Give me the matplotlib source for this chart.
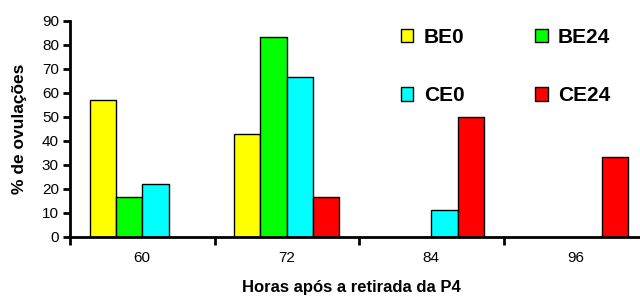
import matplotlib.pyplot as plt
import numpy as np

plt.rcParams['font.family'] = ['Liberation Sans', 'DejaVu Sans']

horas = ['60', '72', '84', '96']
series = ['BE0', 'BE24', 'CE0', 'CE24']
be0 = [57.1, 42.9, 0, 0]
be24 = [16.7, 83.3, 0, 0]
ce0 = [22.2, 66.7, 11.1, 0]
ce24 = [0, 16.7, 50.0, 33.3]
cores = ['#ffff00', '#00ff00', '#00ffff', '#ff0000']

fig = plt.figure(figsize=(6.4, 3.0), dpi=100)
ax = fig.add_axes([70 / 640, 63 / 300, 578 / 640, 216 / 300])

x = np.arange(len(horas))
w = 1 / 5.5
valores = [be0, be24, ce0, ce24]
handles = []
for i, (nome, v) in enumerate(zip(series, valores)):
    pos = x + (i - 1.5) * w
    vals = np.array(v)
    mask = vals > 0
    h = ax.bar(pos[mask], vals[mask], width=w, color=cores[i], edgecolor='black',
               linewidth=1.0, label=nome)
    handles.append(h)

ax.set_xlim(-0.5, len(horas) - 0.5)
ax.set_ylim(0, 90)
ax.set_yticks(range(0, 91, 10))
ax.set_xticks(x)
ax.set_xticklabels(horas, fontsize=11)
ax.set_xticks(np.arange(-0.5, len(horas) + 0.5, 1), minor=True)
ax.tick_params(axis='x', which='major', length=0, pad=10)
ax.tick_params(axis='x', which='minor', length=6, width=2, direction='out')
ax.tick_params(axis='y', length=5, width=2, direction='out', labelsize=11, pad=3)

for s in ['top', 'right']:
    ax.spines[s].set_visible(False)
for s in ['left', 'bottom']:
    ax.spines[s].set_linewidth(2)

ax.set_ylabel('% de ovulações', fontsize=12.5, fontweight='bold')
ax.yaxis.set_label_coords(-43 / 578, 0.5)
ax.set_xlabel('Horas após a retirada da P4', fontsize=12, fontweight='bold')
ax.xaxis.set_label_coords(281 / 578, -0.2)

ordem = [0, 2, 1, 3]
leg = ax.legend([handles[i] for i in ordem], [series[i] for i in ordem],
                ncol=2, loc='upper left', bbox_to_anchor=(312 / 578, 1.055), frameon=False,
                prop={'weight': 'bold', 'size': 15}, handlelength=0.6, handleheight=0.6,
                handletextpad=0.5, columnspacing=3.4, labelspacing=1.9)

fig.savefig('out.png', dpi=100)
